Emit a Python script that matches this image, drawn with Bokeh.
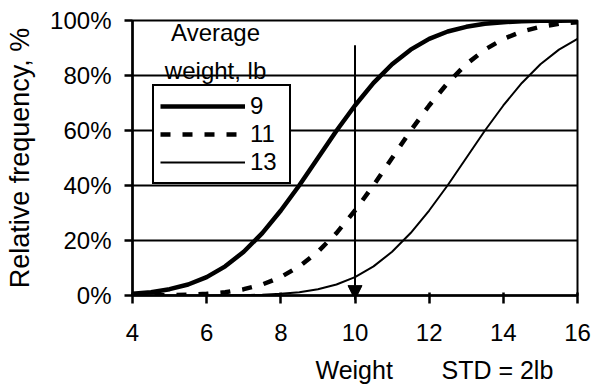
from bokeh.plotting import figure
from bokeh.models import (Range1d, FixedTicker, Legend, LegendItem, Label, Arrow,
                          NormalHead)
from bokeh.embed import file_html
from bokeh.resources import INLINE

# ---- data ----
weight = [4.0, 4.5, 5.0, 5.5, 6.0, 6.5, 7.0, 7.5, 8.0, 8.5, 9.0, 9.5, 10.0,
          10.5, 11.0, 11.5, 12.0, 12.5, 13.0, 13.5, 14.0, 14.5, 15.0, 15.5, 16.0]
freq_9 = [0.6, 1.2, 2.3, 4.0, 6.7, 10.6, 15.9, 22.7, 30.9, 40.1, 50.0, 59.9, 69.1,
          77.3, 84.1, 89.4, 93.3, 96.0, 97.7, 98.8, 99.4, 99.7, 99.9, 99.9, 100.0]
freq_11 = [0.0, 0.1, 0.1, 0.3, 0.6, 1.2, 2.3, 4.0, 6.7, 10.6, 15.9, 22.7, 30.9,
           40.1, 50.0, 59.9, 69.1, 77.3, 84.1, 89.4, 93.3, 96.0, 97.7, 98.8, 99.4]
freq_13 = [0.0, 0.0, 0.0, 0.0, 0.0, 0.1, 0.1, 0.3, 0.6, 1.2, 2.3, 4.0, 6.7,
           10.6, 15.9, 22.7, 30.9, 40.1, 50.0, 59.9, 69.1, 77.3, 84.1, 89.4, 93.3]
series_labels = ["9", "11", "13"]
x_ticks = [4, 6, 8, 10, 12, 14, 16]
y_ticks = [0, 20, 40, 60, 80, 100]
y_tick_labels = ["0%", "20%", "40%", "60%", "80%", "100%"]
x_title = "Weight"
std_note = "STD = 2lb"
marker_weight = 10
marker_top = 91
marker_bottom = -1.5

FONT = "Liberation Sans"

p = figure(width=595, height=385, output_backend="svg", toolbar_location=None,
           x_range=Range1d(4, 16), y_range=Range1d(0, 100),
           min_border_left=132, min_border_right=18, min_border_top=20,
           min_border_bottom=90)
p.background_fill_color = "white"
p.border_fill_color = "white"
p.outline_line_color = "black"
p.outline_line_width = 2

# axes
p.xaxis.ticker = FixedTicker(ticks=x_ticks)
p.yaxis.ticker = FixedTicker(ticks=y_ticks)
p.yaxis.major_label_overrides = {t: l for t, l in zip(y_ticks, y_tick_labels)}
for ax in (p.xaxis[0], p.yaxis[0]):
    ax.axis_line_color = "black"
    ax.axis_line_width = 2.5
    ax.major_tick_line_color = "black"
    ax.major_tick_line_width = 2.5
    ax.major_tick_out = 8
    ax.major_tick_in = 0
    ax.minor_tick_line_color = None
    ax.major_label_text_font = FONT
    ax.major_label_text_font_size = "24px"
    ax.major_label_text_color = "black"
    ax.axis_label_text_font = FONT
    ax.axis_label_text_font_style = "normal"
    ax.axis_label_text_color = "black"
p.xaxis.major_tick_in = 3
p.xaxis.major_label_standoff = 20
p.yaxis.axis_label = "Relative frequency, %"
p.yaxis.axis_label_text_font_size = "27px"
p.yaxis.major_label_standoff = 13
p.yaxis.axis_label_standoff = 12

p.xgrid.grid_line_color = None
p.ygrid.ticker = FixedTicker(ticks=y_ticks)
p.ygrid.grid_line_color = "black"
p.ygrid.grid_line_width = 2

# curves
r9 = p.line(weight, freq_9, line_color="black", line_width=4.5)
r11 = p.line(weight, freq_11, line_color="black", line_width=4.5, line_dash="10 12")
r13 = p.line(weight, freq_13, line_color="black", line_width=2)

# arrow at weight 10
p.add_layout(Arrow(end=NormalHead(size=14, fill_color="black", line_color="black"),
                   x_start=marker_weight, y_start=marker_top,
                   x_end=marker_weight, y_end=marker_bottom,
                   line_color="black", line_width=2))

for txt, yy in (("Average", 95.5), ("weight, lb", 82.0)):
    p.add_layout(Label(x=6.24, y=yy, text=txt, text_align="center",
                       text_baseline="alphabetic", text_font=FONT,
                       text_font_size="24px", text_color="black"))

legend = Legend(items=[LegendItem(label=lab, renderers=[r])
                       for lab, r in zip(series_labels, [r9, r11, r13])],
                location=(20, 111), margin=0, padding=6, spacing=0,
                glyph_width=85, glyph_height=26, label_height=26,
                label_width=33, label_standoff=5, label_text_font=FONT,
                label_text_font_size="24px", label_text_color="black",
                border_line_color="black", border_line_width=2.5,
                border_line_alpha=1.0,
                background_fill_color="white", background_fill_alpha=1.0)
p.add_layout(legend)

# x-axis title and the STD note share one line below the axis
p.add_layout(Label(x=183, y=2, x_units="screen", y_units="screen",
                   text=x_title + "\u00a0" * 7 + std_note, text_align="left",
                   text_baseline="alphabetic", text_font=FONT,
                   text_font_size="25px", text_color="black"), "below")

open("out.html", "w").write(file_html(p, INLINE))
